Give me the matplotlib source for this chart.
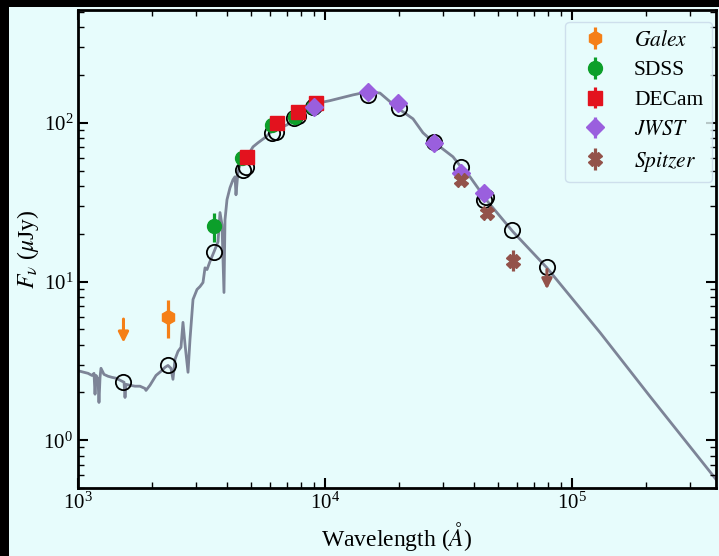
import numpy as np
import matplotlib
matplotlib.use("Agg")
import matplotlib.pyplot as plt
from matplotlib.patches import Rectangle

plt.rcParams['font.family'] = ['Liberation Serif', 'DejaVu Serif']
plt.rcParams['mathtext.fontset'] = 'stix'

# best-fit model spectrum (wavelength in Angstrom, flux in uJy)
spec_wave = [1019, 1057, 1098, 1139, 1161, 1172, 1183, 1205, 1216, 1228, 1239, 1274,
             1323, 1373, 1425, 1479, 1536, 1550, 1564, 1624, 1701, 1782, 1867, 1885,
             1956, 2069, 2168, 2250, 2314, 2379, 2424, 2470, 2540, 2612, 2661, 2712,
             2789, 2841, 2922, 3033, 3119, 3207, 3268, 3330, 3424, 3554, 3689, 3758,
             3828, 3900, 3937, 4011, 4125, 4242, 4322, 4362, 4444, 4528, 4744, 4971,
             5112, 5356, 5559, 5770, 5988, 6274, 6574, 7018, 7560, 7921, 8455, 9110,
             10480, 12990, 14940, 16700, 18330, 20120, 22720, 24940, 27370, 29220,
             32980, 35210, 38640, 45280, 57690, 79190, 129800, 206900, 329800, 393700]
spec_flux = [2.72, 2.68, 2.64, 2.56, 2.64, 1.95, 2.56, 2.42, 1.73, 2.49, 2.84, 2.60,
             2.53, 2.49, 2.46, 2.39, 2.32, 1.86, 2.25, 2.22, 2.19, 2.19, 2.12, 2.06,
             2.22, 2.56, 2.72, 2.88, 2.96, 2.84, 2.42, 3.23, 3.63, 3.85, 5.53, 4.02,
             2.68, 4.32, 7.71, 8.91, 9.30, 9.86, 12.2, 11.9, 13.4, 15.4, 17.8, 27.2,
             22.8, 8.53, 24.5, 32.8, 39.0, 43.8, 45.7, 35.2, 49.2, 54.4, 58.5, 65.7,
             70.6, 74.9, 78.2, 81.6, 86.5, 90.3, 93.0, 97.1, 107, 114, 124, 132,
             138, 150, 157, 154, 136, 121, 106, 86.5, 76.0, 70.6,
             61.1, 53.7, 45.7, 32.3, 20.6, 12.2, 4.78, 1.89, 0.760, 0.537]

# model photometry (open circles)
model_wave = [1528, 2310, 3550, 4650, 4780, 6115, 6345, 7500, 7800, 8930, 9150,
              14940, 19900, 27600, 35600, 44000, 45000, 57000, 79000]
model_flux = [2.32, 2.96, 15.4, 50.6, 52.8, 86.5, 87.8, 107, 110, 126, 130,
              150, 124, 76.0, 52.8, 32.8, 34.0, 21.2, 12.4]

# observed photometry
galex_wave = [2310]
galex_flux = [6.0]
galex_err = [[1.6], [1.7]]
galex_ul_wave = [1528]
galex_ul_flux = [5.8]

sdss_wave = [3551, 4620, 6115, 7560, 8930]
sdss_flux = [22.5, 60.3, 97.0, 109, 125]
sdss_err = [[4.7, 3, 4, 4, 5], [4.5, 3, 4, 4, 5]]

decam_wave = [4832, 6393, 7781, 9228]
decam_flux = [61.1, 100, 117, 134]
decam_err = [2, 3, 3, 4]

jwst_wave = [9022, 14940, 19730, 27640, 35620, 44000]
jwst_flux = [126, 157, 134, 74.9, 48.5, 36.3]
jwst_err = [1, 1, 1, 0.5, 0.5, 0.4]

spitzer_wave = [35600, 45280, 57690]
spitzer_flux = [43.8, 27.2, 13.5]
spitzer_err = [[3, 2, 1.9], [3, 2, 2.4]]
spitzer_ul_wave = [79190]
spitzer_ul_flux = [11.9]

c_galex = '#f57f17'
c_sdss = '#0c9f2a'
c_decam = '#e3121e'
c_jwst = '#9a5fde'
c_spitzer = '#93524a'

bg = '#e7fcfc'
fig = plt.figure(figsize=(7.19, 5.56), dpi=100)
fig.patch.set_facecolor('black')
fig.patches.append(Rectangle((9 / 719, 0), 1, 1 - 7 / 556, transform=fig.transFigure,
                             facecolor=bg, edgecolor='none', zorder=-10))
ax = fig.add_axes([78 / 719, 1 - 488 / 556, (716 - 78) / 719, (488 - 10) / 556])
ax.set_facecolor(bg)

ax.plot(spec_wave, spec_flux, color='#7d8497', lw=2, zorder=1)
ax.plot(model_wave, model_flux, 'o', mfc='none', mec='black', ms=11, mew=1.3, zorder=2)

ekw = dict(elinewidth=2.3, capsize=0, zorder=3)
ax.errorbar(galex_wave, galex_flux, yerr=galex_err, fmt='h', color=c_galex, ms=10,
            label='$Galex$', **ekw)
ax.errorbar(sdss_wave, sdss_flux, yerr=sdss_err, fmt='o', color=c_sdss, ms=10,
            label='SDSS', **ekw)
ax.errorbar(decam_wave, decam_flux, yerr=decam_err, fmt='s', color=c_decam, ms=10.5,
            label='DECam', **ekw)
ax.errorbar(jwst_wave, jwst_flux, yerr=jwst_err, fmt='D', color=c_jwst, ms=9,
            label='$JWST$', **ekw)
ax.errorbar(spitzer_wave, spitzer_flux, yerr=spitzer_err, fmt='X', color=c_spitzer, ms=10,
            label='$Spitzer$', **ekw)

# upper limits as downward arrows
for wl, fl, col, fac in [(galex_ul_wave, galex_ul_flux, c_galex, 0.71),
                         (spitzer_ul_wave, spitzer_ul_flux, c_spitzer, 0.75)]:
    for w, f in zip(wl, fl):
        ax.annotate('', xy=(w, f * fac), xytext=(w, f),
                    arrowprops=dict(arrowstyle='-|>', color=col, lw=2.2,
                                    mutation_scale=15, shrinkA=0, shrinkB=0),
                    zorder=3)

ax.set_xscale('log')
ax.set_yscale('log')
ax.set_xlim(1e3, 3.83e5)
ax.set_ylim(0.5, 514)

ax.set_xlabel(r'Wavelength ($\AA$)', fontsize=17)
ax.set_ylabel(r'$F_{\nu}$ ($\mu$Jy)', fontsize=17, labelpad=2)
ax.tick_params(which='both', direction='in', top=True, right=True, labelsize=15)
ax.tick_params(which='major', length=7, width=1.5)
ax.tick_params(which='minor', length=4, width=1)
for s in ax.spines.values():
    s.set_linewidth(2)

leg = ax.legend(loc='upper right', bbox_to_anchor=(0.9937, 0.975), borderaxespad=0,
                fontsize=15.5, frameon=True, labelspacing=0.45)
leg.get_frame().set_facecolor(bg)
leg.get_frame().set_edgecolor('#c8d8e8')

fig.savefig('out.png', dpi=100, facecolor=fig.get_facecolor())
